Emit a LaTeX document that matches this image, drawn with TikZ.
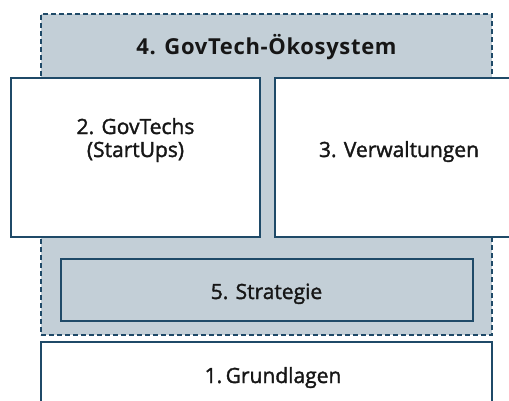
\documentclass[tikz,border=0pt]{standalone}
\usepackage{fontspec}
\setmainfont{Open Sans}
\newfontfamily\boxfont{Open Sans}[FakeBold=1.6]
\newfontfamily\titlefont{Open Sans Bold}[LetterSpace=3]
\definecolor{ecofill}{HTML}{C3CFD7}
\definecolor{edge}{HTML}{1F4A68}
\definecolor{txt}{HTML}{161616}
\begin{document}
\begin{tikzpicture}[x=1pt,y=1pt,
  box/.style={draw=edge, line width=1.5pt, rectangle, fill=white, inner sep=0pt},
  lbl/.style={text=txt, align=center, anchor=base, inner sep=0pt,
    font=\boxfont\fontsize{21}{23}\selectfont},
  ecobox/.style={draw=edge, line width=1.5pt, dash pattern=on 5pt off 3pt, fill=ecofill, rectangle, inner sep=0pt},
  title/.style={text=txt, anchor=base, font=\titlefont\fontsize{22}{24}\selectfont, inner sep=0pt}]
\useasboundingbox (0,0) rectangle (509,400);
\node[ecobox, minimum width=451pt, minimum height=321pt] (eco) at (266.5,225.5) {};
\node[title] (ecot) at (266.5,345) {4. GovTech-Ökosystem};
\node[box, minimum width=249pt, minimum height=159pt] (startups) at (135.5,242.5) {};
\node[box, minimum width=248pt, minimum height=159pt] (verw) at (399,242.5) {};
\node[box, fill=ecofill, minimum width=412pt, minimum height=62pt] (strat) at (267,110) {};
\node[box, minimum width=451pt, minimum height=72pt] (grund) at (266.5,22) {};
\node[lbl] (startupst) at (135.5,243) {2. GovTechs\\(StartUps)};
\node[lbl] (verwt) at (399,243) {3. Verwaltungen};
\node[lbl] (stratt) at (266.5,101) {5. Strategie};
\node[lbl] (grundt) at (273,17) {1.\,Grundlagen};
\end{tikzpicture}
\end{document}
